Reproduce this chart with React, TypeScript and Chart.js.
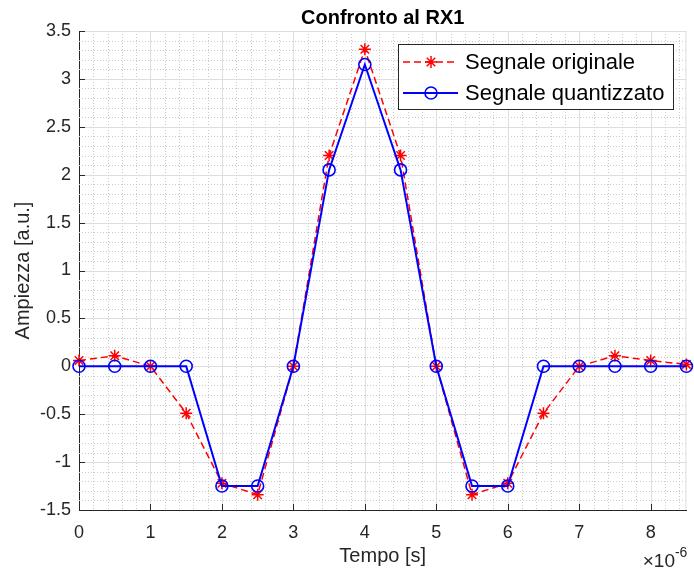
import React, { useEffect, useRef } from "react";
import { Chart, registerables } from "chart.js";

Chart.register(...registerables);

// ---- data (time in units of 1e-6 s) ----
const timeMicro = [0, 0.5, 1, 1.5, 2, 2.5, 3, 3.5, 4, 4.5, 5, 5.5, 6, 6.5, 7, 7.5, 8, 8.5];
const originalSignal = [0.06, 0.11, 0, -0.49, -1.22, -1.34, 0, 2.2, 3.31, 2.2, 0, -1.34, -1.22, -0.49, 0, 0.11, 0.06, 0.02];
const quantizedSignal = [0, 0, 0, 0, -1.25, -1.25, 0, 2.05, 3.15, 2.05, 0, -1.25, -1.25, 0, 0, 0, 0, 0];

const xMajorTicks = [0, 1, 2, 3, 4, 5, 6, 7, 8];
const xTickLabels = ["0", "1", "2", "3", "4", "5", "6", "7", "8"];
const yMajorTicks = [-1.5, -1, -0.5, 0, 0.5, 1, 1.5, 2, 2.5, 3, 3.5];
const yTickLabels = ["-1.5", "-1", "-0.5", "0", "0.5", "1", "1.5", "2", "2.5", "3", "3.5"];

const seriesLabels = ["Segnale originale", "Segnale quantizzato"];
const chartTitle = "Confronto al RX1";
const xTitle = "Tempo [s]";
const yTitle = "Ampiezza [a.u.]";
const exponentBase = "\u00d710";
const exponentPower = "-6";

const FONT = "'Liberation Sans', Arial, Helvetica, sans-serif";
const AXIS_COLOR = "#262626";

const gridPlugin = {
  id: "matlabGrid",
  beforeDatasetsDraw(chart: any) {
    const { ctx, chartArea } = chart;
    const xs = chart.scales.x;
    const ys = chart.scales.y;
    const xStep = (xMajorTicks[1] - xMajorTicks[0]) / 5;
    const yStep = (yMajorTicks[1] - yMajorTicks[0]) / 5;
    ctx.save();
    // minor grid
    ctx.strokeStyle = "#cacaca";
    ctx.lineWidth = 1;
    ctx.setLineDash([1, 2]);
    for (let v = xs.min + xStep; v < xs.max - 1e-9; v += xStep) {
      const r = Math.round((v - xMajorTicks[0]) / (xStep * 5) * 1e6) / 1e6;
      if (Math.abs(r - Math.round(r)) < 1e-6) continue;
      const px = Math.round(xs.getPixelForValue(v)) + 0.5;
      ctx.beginPath();
      ctx.moveTo(px, chartArea.top);
      ctx.lineTo(px, chartArea.bottom);
      ctx.stroke();
    }
    for (let v = ys.min + yStep; v < ys.max - 1e-9; v += yStep) {
      const r = Math.round((v - yMajorTicks[0]) / (yStep * 5) * 1e6) / 1e6;
      if (Math.abs(r - Math.round(r)) < 1e-6) continue;
      const py = Math.round(ys.getPixelForValue(v)) + 0.5;
      ctx.beginPath();
      ctx.moveTo(chartArea.left, py);
      ctx.lineTo(chartArea.right, py);
      ctx.stroke();
    }
    // major grid
    ctx.setLineDash([]);
    ctx.strokeStyle = "#dedede";
    xMajorTicks.forEach((v) => {
      const px = Math.round(xs.getPixelForValue(v)) + 0.5;
      if (px <= chartArea.left + 1) return;
      ctx.beginPath();
      ctx.moveTo(px, chartArea.top);
      ctx.lineTo(px, chartArea.bottom);
      ctx.stroke();
    });
    yMajorTicks.forEach((v) => {
      const py = Math.round(ys.getPixelForValue(v)) + 0.5;
      if (py >= chartArea.bottom - 1) return;
      ctx.beginPath();
      ctx.moveTo(chartArea.left, py);
      ctx.lineTo(chartArea.right, py);
      ctx.stroke();
    });
    // top and right grid edges
    ctx.beginPath();
    ctx.moveTo(chartArea.left, chartArea.top + 0.5);
    ctx.lineTo(chartArea.right, chartArea.top + 0.5);
    ctx.moveTo(chartArea.right - 0.5, chartArea.top);
    ctx.lineTo(chartArea.right - 0.5, chartArea.bottom);
    ctx.stroke();
    // inward major tick marks
    ctx.strokeStyle = AXIS_COLOR;
    xMajorTicks.forEach((v) => {
      const px = Math.round(xs.getPixelForValue(v)) + 0.5;
      ctx.beginPath();
      ctx.moveTo(px, chartArea.bottom);
      ctx.lineTo(px, chartArea.bottom - 6);
      ctx.stroke();
    });
    yMajorTicks.forEach((v) => {
      const py = Math.round(ys.getPixelForValue(v)) + 0.5;
      ctx.beginPath();
      ctx.moveTo(chartArea.left, py);
      ctx.lineTo(chartArea.left + 6, py);
      ctx.stroke();
    });
    ctx.restore();
  },
};

const legendPlugin = {
  id: "matlabLegend",
  afterDraw(chart: any) {
    const { ctx } = chart;
    const box = { x: 398, y: 44, w: 275, h: 65 };
    ctx.save();
    ctx.fillStyle = "#ffffff";
    ctx.fillRect(box.x, box.y, box.w, box.h);
    ctx.strokeStyle = AXIS_COLOR;
    ctx.lineWidth = 1;
    ctx.strokeRect(box.x + 0.5, box.y + 0.5, box.w, box.h);
    const rows = [62, 93];
    const dsOrder = [0, 1];
    dsOrder.forEach((di, i) => {
      const ds = chart.data.datasets[di];
      const y = rows[i];
      ctx.strokeStyle = ds.borderColor;
      ctx.lineWidth = ds.borderWidth;
      ctx.setLineDash(ds.borderDash || []);
      ctx.beginPath();
      ctx.moveTo(403, y);
      ctx.lineTo(458, y);
      ctx.stroke();
      ctx.setLineDash([]);
      ctx.lineWidth = ds.pointBorderWidth;
      ctx.strokeStyle = ds.pointBorderColor;
      ctx.beginPath();
      const cx = 431;
      const r = ds.pointRadius;
      if (ds.pointStyle === "circle") {
        ctx.fillStyle = "#ffffff";
        ctx.arc(cx, y, r, 0, Math.PI * 2);
        ctx.stroke();
      } else {
        for (let k = 0; k < 4; k++) {
          const a = (k * Math.PI) / 4;
          ctx.moveTo(cx - Math.cos(a) * r, y - Math.sin(a) * r);
          ctx.lineTo(cx + Math.cos(a) * r, y + Math.sin(a) * r);
        }
        ctx.stroke();
      }
      ctx.fillStyle = "#000000";
      ctx.font = `22px ${FONT}`;
      ctx.textBaseline = "middle";
      ctx.textAlign = "left";
      ctx.fillText(ds.label, 465, y + 1);
    });
    ctx.restore();
  },
};

const exponentPlugin = {
  id: "exponentLabel",
  afterDraw(chart: any) {
    const { ctx, chartArea } = chart;
    ctx.save();
    ctx.fillStyle = AXIS_COLOR;
    ctx.textBaseline = "alphabetic";
    ctx.textAlign = "right";
    ctx.font = `14px ${FONT}`;
    const supW = ctx.measureText(exponentPower).width;
    const right = chartArea.right + 1;
    ctx.fillText(exponentPower, right, 557);
    ctx.font = `19px ${FONT}`;
    ctx.fillText(exponentBase, right - supW, 567);
    ctx.restore();
  },
};

export default function App() {
  const canvasRef = useRef<HTMLCanvasElement | null>(null);

  useEffect(() => {
    document.body.style.margin = "0";
    const canvas = canvasRef.current;
    if (!canvas) return;
    const chart = new Chart(canvas, {
      type: "line",
      data: {
        datasets: [
          {
            label: seriesLabels[0],
            data: timeMicro.map((t, i) => ({ x: t, y: originalSignal[i] })),
            borderColor: "#ff0000",
            borderWidth: 1.5,
            borderDash: [7, 4],
            pointStyle: "star",
            pointRadius: 6,
            pointBorderWidth: 1.5,
            pointBorderColor: "#ff0000",
            pointBackgroundColor: "#ff0000",
            fill: false,
            tension: 0,
            clip: false,
            order: 2,
          } as any,
          {
            label: seriesLabels[1],
            data: timeMicro.map((t, i) => ({ x: t, y: quantizedSignal[i] })),
            borderColor: "#0000ff",
            borderWidth: 2,
            pointStyle: "circle",
            pointRadius: 6,
            pointBorderWidth: 1.6,
            pointBorderColor: "#0000ff",
            pointBackgroundColor: "rgba(0,0,0,0)",
            fill: false,
            tension: 0,
            clip: false,
            order: 1,
          } as any,
        ],
      },
      options: {
        animation: false,
        responsive: false,
        maintainAspectRatio: false,
        layout: { padding: { left: 0, right: 4, top: 0, bottom: 0 } },
        plugins: {
          legend: { display: false },
          tooltip: { enabled: false },
          title: {
            display: true,
            text: chartTitle,
            fullSize: false,
            color: "#000000",
            font: { family: FONT, size: 20, weight: "bold" },
            padding: { top: 6, bottom: 1 },
          },
        },
        scales: {
          x: {
            type: "linear",
            min: 0,
            max: 8.5,
            afterBuildTicks: (s: any) => {
              s.ticks = xMajorTicks.map((v) => ({ value: v }));
            },
            afterFit: (s: any) => {
              s.height = 59;
            },
            ticks: {
              autoSkip: false,
              maxRotation: 0,
              padding: 12,
              color: AXIS_COLOR,
              font: { family: FONT, size: 18 },
              callback: (v: any) => xTickLabels[xMajorTicks.indexOf(Number(v))] ?? "",
            },
            grid: { display: true, drawOnChartArea: false, drawTicks: false, color: "rgba(0,0,0,0)" },
            border: { display: true, color: AXIS_COLOR, width: 1 },
            title: {
              display: true,
              text: xTitle,
              color: AXIS_COLOR,
              font: { family: FONT, size: 20 },
              padding: { top: 0, bottom: 1 },
            },
          },
          y: {
            type: "linear",
            min: -1.5,
            max: 3.5,
            afterBuildTicks: (s: any) => {
              s.ticks = yMajorTicks.map((v) => ({ value: v }));
            },
            afterFit: (s: any) => {
              s.width = 79;
            },
            ticks: {
              autoSkip: false,
              padding: 8,
              color: AXIS_COLOR,
              font: { family: FONT, size: 18 },
              callback: (v: any) => yTickLabels[yMajorTicks.indexOf(Number(v))] ?? "",
            },
            grid: { display: true, drawOnChartArea: false, drawTicks: false, color: "rgba(0,0,0,0)" },
            border: { display: true, color: AXIS_COLOR, width: 1 },
            title: {
              display: true,
              text: yTitle,
              color: AXIS_COLOR,
              font: { family: FONT, size: 20 },
              padding: { top: 11, bottom: 0 },
            },
          },
        },
      } as any,
      plugins: [gridPlugin, legendPlugin, exponentPlugin],
    });
    return () => chart.destroy();
  }, []);

  return (
    <div style={{ width: 694, height: 569, overflow: "hidden", background: "#ffffff" }}>
      <canvas ref={canvasRef} width={694} height={569} style={{ display: "block" }} />
    </div>
  );
}
